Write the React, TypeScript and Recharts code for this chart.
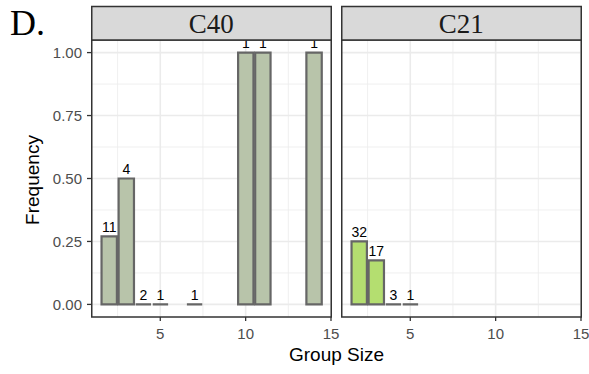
import { BarChart, Bar, XAxis, YAxis, CartesianGrid, LabelList } from "recharts";

// Group sizes, frequency of each size and the number of groups (bar labels).
const c40Sizes = [2, 3, 4, 5, 7, 10, 11, 14];
const c40Freq = [0.27, 0.5, 0, 0, 0, 1, 1, 1];
const c40Counts = [11, 4, 2, 1, 1, 1, 1, 1];

const c21Sizes = [2, 3, 4, 5];
const c21Freq = [0.25, 0.175, 0, 0];
const c21Counts = [32, 17, 3, 1];

const facetNames = ["C40", "C21"];
const yTicks = [0, 0.25, 0.5, 0.75, 1];
const yMinor = [0.125, 0.375, 0.625, 0.875];
const xTicks = [5, 10, 15];
const xMinor = [2.5, 7.5, 12.5];

const H = 374;
const PANEL_W = 239;
const X_DOMAIN: [number, number] = [1, 15];
const Y_DOMAIN: [number, number] = [-0.05, 1.05];
const BAR_PX = PANEL_W / (X_DOMAIN[1] - X_DOMAIN[0]);

const FONT = "'Liberation Sans', Arial, sans-serif";
const SERIF = "'Liberation Serif', 'Times New Roman', serif";

// Outlined bar; also draws zero-height bars as a flat line like ggplot does.
function OutlineBar(props: any) {
  const { x, y, width, height, fill } = props;
  if (x == null || y == null) return null;
  const d = `M${x},${y}h${width}v${height || 0}h${-width}Z`;
  return <path d={d} fill={fill} stroke="#666666" strokeWidth={2.2} />;
}

interface FacetProps {
  sizes: number[];
  freq: number[];
  counts: number[];
  fill: string;
  showY: boolean;
  width: number;
  left: number;
  right: number;
}

function Facet({ sizes, freq, counts, fill, showY, width, left, right }: FacetProps) {
  const data = sizes.map((s, i) => ({ size: s, freq: freq[i], n: counts[i] }));
  return (
    <BarChart
      width={width}
      height={H}
      data={data}
      margin={{ top: 40, right, bottom: 27, left }}
    >
      <CartesianGrid
        horizontalValues={yMinor}
        verticalValues={xMinor}
        stroke="#EBEBEB"
        strokeWidth={0.8}
      />
      <CartesianGrid
        horizontalValues={yTicks}
        verticalValues={xTicks}
        stroke="#EBEBEB"
        strokeWidth={1.6}
      />
      <XAxis
        type="number"
        dataKey="size"
        domain={X_DOMAIN}
        ticks={xTicks}
        allowDataOverflow
        height={30}
        axisLine={false}
        tickSize={4}
        tickMargin={7}
        tickLine={{ stroke: "#333333", strokeWidth: 1.3 }}
        tick={{ fill: "#4D4D4D", fontSize: 15 }}
      />
      <YAxis
        type="number"
        domain={Y_DOMAIN}
        ticks={yTicks}
        allowDataOverflow
        hide={!showY}
        width={showY ? 92 : 0}
        axisLine={false}
        tickSize={5}
        tickMargin={5}
        tickLine={{ stroke: "#333333", strokeWidth: 1.3 }}
        tick={{ fill: "#4D4D4D", fontSize: 15 }}
        tickFormatter={(v: number) => v.toFixed(2)}
      />
      <Bar
        dataKey="freq"
        barSize={BAR_PX}
        fill={fill}
        shape={<OutlineBar />}
        isAnimationActive={false}
      >
        <LabelList
          dataKey="n"
          position="top"
          offset={4.5}
          fill="#000000"
          style={{ fill: "#000000" }}
          fontSize={14}
        />
      </Bar>
    </BarChart>
  );
}

export default function App() {
  const panels = [
    { x: 91.75, name: facetNames[0] },
    { x: 341.75, name: facetNames[1] },
  ];
  return (
    <div
      style={{
        position: "absolute",
        left: 0,
        top: 0,
        width: 589,
        height: H,
        background: "#ffffff",
        fontFamily: FONT,
        overflow: "hidden",
      }}
    >
      <div style={{ position: "absolute", left: 0, top: 0 }}>
        <Facet
          sizes={c40Sizes}
          freq={c40Freq}
          counts={c40Counts}
          fill="#B8C4AA"
          showY
          width={340}
          left={0}
          right={340 - 92 - PANEL_W}
        />
      </div>
      <div style={{ position: "absolute", left: 332, top: 0 }}>
        <Facet
          sizes={c21Sizes}
          freq={c21Freq}
          counts={c21Counts}
          fill="#B4DE70"
          showY={false}
          width={257}
          left={10}
          right={257 - 10 - PANEL_W}
        />
      </div>
      <svg
        width={589}
        height={H}
        style={{ position: "absolute", left: 0, top: 0, pointerEvents: "none" }}
      >
        {panels.map((p) => (
          <g key={p.name}>
            <rect
              x={p.x}
              y={40}
              width={PANEL_W + 0.5}
              height={277}
              fill="none"
              stroke="#333333"
              strokeWidth={1.5}
            />
            <rect
              x={p.x}
              y={6.5}
              width={PANEL_W + 0.5}
              height={33.5}
              fill="#D9D9D9"
              stroke="#333333"
              strokeWidth={1.5}
            />
            <text
              x={p.x + PANEL_W / 2}
              y={33}
              textAnchor="middle"
              fontSize={27}
              fontFamily={SERIF}
              fill="#1A1A1A"
            >
              {p.name}
            </text>
          </g>
        ))}
        <text x={10} y={35} fontSize={36} fontFamily={SERIF} fill="#000000">
          D.
        </text>
        <text x={336.5} y={361} textAnchor="middle" fontSize={19} fill="#000000">
          Group Size
        </text>
        <text
          transform="translate(39, 180) rotate(-90)"
          textAnchor="middle"
          fontSize={19}
          fill="#000000"
        >
          Frequency
        </text>
      </svg>
    </div>
  );
}
